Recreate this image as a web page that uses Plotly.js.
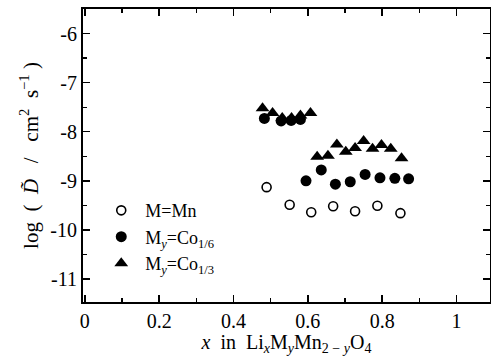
<!DOCTYPE html>
<html>
<head>
<meta charset="utf-8">
<script src="https://cdn.plot.ly/plotly-3.0.1.min.js"></script>
<style>html,body{margin:0;padding:0;background:#fff;}#chart{width:491px;height:356px;}</style>
</head>
<body>
<div id="chart"></div>
<script>
// M = Mn (open circles)
const mnX = [0.489, 0.551, 0.609, 0.668, 0.727, 0.787, 0.849];
const mnY = [-9.13, -9.49, -9.64, -9.52, -9.62, -9.51, -9.66];
// My = Co1/6 (filled circles)
const co16X = [0.483, 0.528, 0.555, 0.580, 0.595, 0.636, 0.674, 0.714, 0.754, 0.794, 0.834, 0.871];
const co16Y = [-7.73, -7.78, -7.77, -7.75, -9.00, -8.78, -9.07, -9.02, -8.87, -8.94, -8.95, -8.96];
// My = Co1/3 (filled triangles)
const co13X = [0.478, 0.505, 0.531, 0.556, 0.580, 0.607, 0.625, 0.654, 0.678, 0.702, 0.727, 0.750, 0.774, 0.798, 0.823, 0.852];
const co13Y = [-7.52, -7.62, -7.72, -7.72, -7.67, -7.62, -8.51, -8.49, -8.26, -8.41, -8.33, -8.19, -8.35, -8.27, -8.35, -8.54];

const seriesNames = ['M=Mn', 'M<sub><i>y</i></sub>=Co<sub>1/6</sub>', 'M<sub><i>y</i></sub>=Co<sub>1/3</sub>'];
const yTickVals = [-11, -10, -9, -8, -7, -6];
const yTickText = ['-11', '-10', '-9', '-8', '-7', '-6'];
const xTickVals = [0, 0.2, 0.4, 0.6, 0.8, 1];
const xTickText = ['0', '0.2', '0.4', '0.6', '0.8', '1'];
const xTitle = '<i>x</i>&nbsp;&nbsp;in&nbsp;&nbsp;Li<sub><i>x</i></sub>M<sub><i>y</i></sub>Mn<sub>2&nbsp;−&nbsp;<i>y</i></sub>O<sub>4</sub>';
const yTitle = 'log&nbsp;&nbsp;(&nbsp;&nbsp;<i>D̃</i>&nbsp;&nbsp;&nbsp;/&nbsp;&nbsp;&nbsp;cm<sup>2</sup>&nbsp;&nbsp;s<sup>−1</sup>&nbsp;)';

const font = 'Liberation Serif, Times New Roman, serif';

const traces = [
  {x: mnX, y: mnY, name: seriesNames[0], mode: 'markers', type: 'scatter',
   marker: {symbol: 'circle-open', size: 9, color: '#000', line: {width: 1.6, color: '#000'}}},
  {x: co16X, y: co16Y, name: seriesNames[1], mode: 'markers', type: 'scatter',
   marker: {symbol: 'circle', size: 11, color: '#000'}},
  {x: co13X, y: co13Y, name: seriesNames[2], mode: 'markers', type: 'scatter',
   marker: {symbol: 'triangle-up', size: 12, color: '#000'}}
];

const axisCommon = {
  showgrid: false, zeroline: false, showline: true, linecolor: '#000', linewidth: 2,
  mirror: 'ticks', ticks: 'inside', ticklen: 7, tickwidth: 1.5, tickcolor: '#000',
  tickfont: {family: font, size: 20, color: '#000'}
};

const layout = {
  width: 491, height: 356,
  margin: {l: 83, r: 1, t: 9, b: 54},
  paper_bgcolor: '#fff', plot_bgcolor: '#fff',
  font: {family: font, color: '#000'},
  showlegend: true,
  legend: {x: 0.035, y: 0.375, xanchor: 'left', yanchor: 'top', bgcolor: 'rgba(0,0,0,0)',
           itemwidth: 38, font: {family: font, size: 18, color: '#000'}, tracegroupgap: 0},
  xaxis: Object.assign({}, axisCommon, {
    range: [-0.005, 1.09], tickvals: xTickVals, ticktext: xTickText,
    minor: {dtick: 0.1, tick0: 0, ticks: 'inside', ticklen: 4, tickwidth: 1.2, tickcolor: '#000'},
    title: {text: xTitle, font: {family: font, size: 20, color: '#000'}, standoff: 4}
  }),
  yaxis: Object.assign({}, axisCommon, {
    range: [-11.47, -5.5], tickvals: yTickVals, ticktext: yTickText,
    minor: {dtick: 0.5, tick0: 0, ticks: 'inside', ticklen: 4, tickwidth: 1.2, tickcolor: '#000'},
    title: {text: yTitle, font: {family: font, size: 21, color: '#000'}, standoff: 6}
  })
};

Plotly.newPlot('chart', traces, layout, {displayModeBar: false, staticPlot: true});
</script>
</body>
</html>
